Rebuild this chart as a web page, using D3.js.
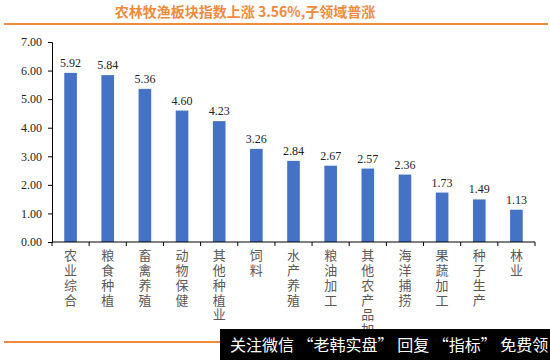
<!DOCTYPE html>
<html><head><meta charset="utf-8">
<script src="https://cdn.jsdelivr.net/npm/d3@7/dist/d3.min.js"></script>
<style>body{margin:0;background:#fff}svg{display:block}</style>
</head><body>
<svg id="c" width="550" height="360"></svg>
<script>
const categories = ["农业综合","粮食种植","畜禽养殖","动物保健","其他种植业","饲料","水产养殖","粮油加工","其他农产品加工","海洋捕捞","果蔬加工","种子生产","林业"];
const values = [5.92,5.84,5.36,4.60,4.23,3.26,2.84,2.67,2.57,2.36,1.73,1.49,1.13];
const yTicks = [0,1,2,3,4,5,6,7];
const title = "农林牧渔板块指数上涨 3.56%,子领域普涨";
const watermark = "关注微信 “老韩实盘” 回复 “指标” 免费领";

const svg = d3.select("#c");
const serif = "Liberation Serif, DejaVu Serif, serif";
const cjk = "Noto Sans CJK SC, sans-serif";

svg.append("defs").append("clipPath").attr("id","labclip")
  .append("rect").attr("x",0).attr("y",244).attr("width",550).attr("height",85);

// title
svg.append("text").attr("x",245).attr("y",17).attr("text-anchor","middle")
  .attr("font-family",cjk).attr("font-size",14).attr("font-weight","bold")
  .attr("fill","#F08A3C").text(title);
svg.append("line").attr("x1",4).attr("x2",548).attr("y1",24).attr("y2",24)
  .attr("stroke","#F08A3C").attr("stroke-width",2);

const x = d3.scaleBand().domain(categories).range([52,535]).paddingInner(0.66).paddingOuter(0.33);
const y = d3.scaleLinear().domain([0,7]).range([242,42]);

// y axis
const ya = svg.append("g").attr("transform","translate(52,0)")
  .call(d3.axisLeft(y).tickValues(yTicks).tickFormat(d3.format(".2f")).tickSizeOuter(0).tickSize(4));
ya.select(".domain").attr("stroke","#000");
ya.selectAll(".tick line").attr("stroke","#000");
ya.selectAll("text").attr("font-family",serif).attr("font-size",12).attr("fill","#222").attr("x",-10);

// bars
svg.append("g").selectAll("rect").data(values).join("rect")
  .attr("x",(d,i)=>x(categories[i])).attr("width",x.bandwidth())
  .attr("y",d=>y(d)).attr("height",d=>y(0)-y(d)).attr("fill","#4472C4");

// value labels
svg.append("g").selectAll("text").data(values).join("text")
  .attr("x",(d,i)=>x(categories[i])+x.bandwidth()/2).attr("y",d=>y(d)-6)
  .attr("text-anchor","middle").attr("font-family",serif).attr("font-size",12).attr("fill","#222")
  .text(d=>d.toFixed(2));

// x axis
const boundaries = d3.range(categories.length+1).map(i=>x.range()[0]+i*(x.range()[1]-x.range()[0])/categories.length);
svg.append("line").attr("x1",52).attr("x2",535).attr("y1",242).attr("y2",242).attr("stroke","#000");
svg.append("g").selectAll("line").data(boundaries).join("line")
  .attr("x1",d=>d).attr("x2",d=>d).attr("y1",242).attr("y2",246).attr("stroke","#000");

// category labels vertical
svg.append("g").attr("clip-path","url(#labclip)").selectAll("text").data(categories).join("text")
  .attr("x",d=>x(d)+x.bandwidth()/2).attr("y",249)
  .attr("writing-mode","vertical-rl").style("text-orientation","upright")
  .attr("letter-spacing",1.7)
  .attr("font-family",cjk).attr("font-size",13).attr("fill","#595959").text(d=>d);

// footer
svg.append("line").attr("x1",4).attr("x2",220).attr("y1",342).attr("y2",342)
  .attr("stroke","#F08A3C").attr("stroke-width",2);
svg.append("rect").attr("x",220).attr("y",329).attr("width",330).attr("height",31).attr("fill","#000");
svg.append("text").attr("x",230).attr("y",351).attr("font-family",cjk).attr("font-size",16)
  .attr("fill","#fff").text(watermark);
</script>
</body></html>
